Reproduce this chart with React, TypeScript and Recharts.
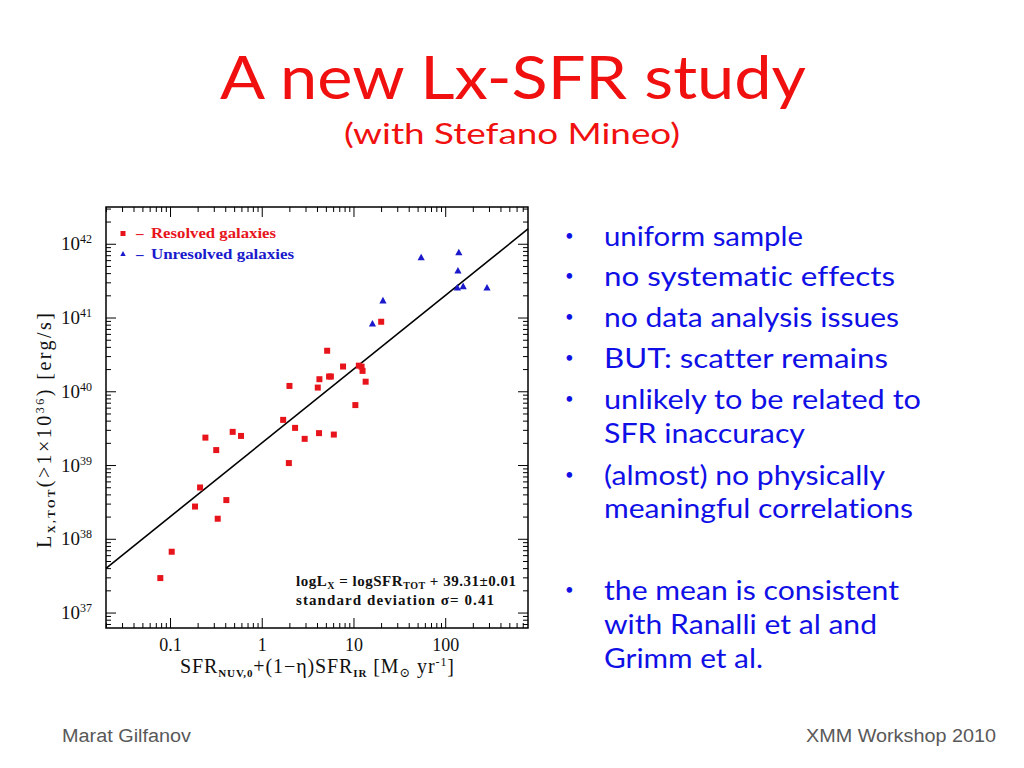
import React from 'react';
import { ScatterChart, Scatter, XAxis, YAxis, ReferenceLine, ReferenceArea } from 'recharts';

// ---------- data ----------
const resolvedSFR = [19.8, 5.1, 7.6, 11.3, 12.1, 12.4, 13.4, 5.35, 5.6, 4.2, 4.03, 1.98, 10.35, 1.69, 2.28, 0.24, 0.476, 0.587, 0.315, 2.9, 4.16, 6.03, 1.95, 0.21, 0.185, 0.406, 0.327, 0.103, 0.0774];
const resolvedLx = [8.9e40, 3.6e40, 2.2e40, 2.26e40, 2.19e40, 1.92e40, 1.37e40, 1.61e40, 1.61e40, 1.48e40, 1.14e40, 1.2e40, 6.6e39, 4.16e39, 3.24e39, 2.39e39, 2.86e39, 2.52e39, 1.62e39, 2.3e39, 2.75e39, 2.63e39, 1.08e39, 5.04e38, 2.78e38, 3.4e38, 1.9e38, 6.78e37, 2.98e37];
const unresolvedSFR = [54, 139, 136, 134, 155, 282, 20.7, 15.9];
const unresolvedLx = [6.58e41, 7.69e41, 4.35e41, 2.56e41, 2.67e41, 2.56e41, 1.71e41, 8.3e40];

const FIT_INTERCEPT = 39.31; // logLx = logSFR + 39.31
const X_DOMAIN = [0.0198, 789];
const Y_DOMAIN = [6.27e36, 3.2e42];

const X_DECADES = [-2, -1, 0, 1, 2];
const Y_DECADES = [36, 37, 38, 39, 40, 41, 42];
const MANTISSAS = [1, 2, 3, 4, 5, 6, 7, 8, 9];

const bulletLines = [
  { text: 'uniform sample', bullet: true, w: 199 },
  { text: 'no systematic effects', bullet: true, w: 291 },
  { text: 'no data analysis issues', bullet: true, w: 295 },
  { text: 'BUT: scatter remains', bullet: true, w: 284 },
  { text: 'unlikely to be related to', bullet: true, w: 317 },
  { text: 'SFR inaccuracy', bullet: false, w: 201 },
  { text: '(almost) no physically', bullet: true, w: 281 },
  { text: 'meaningful correlations', bullet: false, w: 309 },
  { text: 'the mean is consistent', bullet: true, w: 295 },
  { text: 'with Ranalli et al and', bullet: false, w: 273 },
  { text: 'Grimm et al.', bullet: false, w: 159 },
];
const bulletBaselines = [246, 286, 327, 368, 409, 443, 485, 518, 600, 634, 668];

// ---------- layout ----------
const PLOT_W = 422;
const PLOT_H = 421;
const RED = '#e8141c';
const BLUE = '#1a1acc';
const SLIDE_BLUE = '#1010e6';
const SERIF = '"Liberation Serif", "DejaVu Serif", serif';
const SLIDE_FONT = 'Lato, "Open Sans", sans-serif';
const NO_LIG = { fontVariantLigatures: 'none' as const };

const buildTicks = (decades: number[], dom: number[]) => {
  const out: number[] = [];
  decades.forEach((d) => MANTISSAS.forEach((m) => {
    const v = m * Math.pow(10, d);
    if (v >= dom[0] && v <= dom[1]) out.push(v);
  }));
  return out;
};
const X_TICKS = buildTicks(X_DECADES, X_DOMAIN);
const Y_TICKS = buildTicks(Y_DECADES, Y_DOMAIN);

const isMajor = (v: number) => {
  const l = Math.log10(v);
  return Math.abs(l - Math.round(l)) < 1e-6;
};

const XTick = (props: any) => {
  const { x, y, payload } = props;
  const v = payload.value;
  const major = isMajor(v);
  const len = major ? 10 : 5;
  return (
    <g>
      <line x1={x} y1={y} x2={x} y2={y - len} stroke="#000" strokeWidth={1} />
      <line x1={x} y1={y - PLOT_H} x2={x} y2={y - PLOT_H + len} stroke="#000" strokeWidth={1} />
      {major && (
        <text x={x} y={y + 23} textAnchor="middle" fontFamily={SERIF} fontSize={18} fill="#111">
          {String(v)}
        </text>
      )}
    </g>
  );
};

const YTick = (props: any) => {
  const { x, y, payload } = props;
  const v = payload.value;
  const major = isMajor(v);
  const len = major ? 10 : 5;
  return (
    <g>
      <line x1={x} y1={y} x2={x + len} y2={y} stroke="#000" strokeWidth={1} />
      <line x1={x + PLOT_W} y1={y} x2={x + PLOT_W - len} y2={y} stroke="#000" strokeWidth={1} />
      {major && (
        <text x={x - 14} y={y + 6} textAnchor="end" fontFamily={SERIF} fontSize={19} fill="#111">
          <tspan>10</tspan>
          <tspan dy={-7} fontSize={12}>{String(Math.round(Math.log10(v)))}</tspan>
        </text>
      )}
    </g>
  );
};

const Square = (props: any) => {
  const { cx, cy } = props;
  return <rect x={cx - 3} y={cy - 3} width={6} height={6} fill={RED} />;
};
const Triangle = (props: any) => {
  const { cx, cy } = props;
  return <polygon points={`${cx},${cy - 4} ${cx - 3.6},${cy + 2.6} ${cx + 3.6},${cy + 2.6}`} fill={BLUE} />;
};

export default function App() {
  const resolved = resolvedSFR.map((s, i) => ({ sfr: s, lx: resolvedLx[i] }));
  const unresolved = unresolvedSFR.map((s, i) => ({ sfr: s, lx: unresolvedLx[i] }));
  const fitK = Math.pow(10, FIT_INTERCEPT);
  const fitSegment = [
    { x: X_DOMAIN[0], y: X_DOMAIN[0] * fitK },
    { x: X_DOMAIN[1], y: X_DOMAIN[1] * fitK },
  ];

  return (
    <div style={{ position: 'absolute', left: 0, top: 0, width: 1024, height: 768, background: '#fff', overflow: 'hidden' }}>
      <div style={{ position: 'absolute', left: 0, top: 0 }}>
        <ScatterChart width={1024} height={768} margin={{ top: 207, right: 496, bottom: 100, left: 56 }}>
          <XAxis
            dataKey="sfr"
            type="number"
            scale="log"
            domain={X_DOMAIN}
            allowDataOverflow
            ticks={X_TICKS}
            interval={0}
            tick={(p: any) => <XTick {...p} />}
            tickLine={false}
            axisLine={false}
            tickSize={0}
            tickMargin={0}
            height={40}
          />
          <YAxis
            dataKey="lx"
            type="number"
            scale="log"
            domain={Y_DOMAIN}
            allowDataOverflow
            ticks={Y_TICKS}
            interval={0}
            tick={(p: any) => <YTick {...p} />}
            tickLine={false}
            axisLine={false}
            tickSize={0}
            tickMargin={0}
            width={50}
          />
          <ReferenceArea
            x1={X_DOMAIN[0]}
            x2={X_DOMAIN[1]}
            y1={Y_DOMAIN[0]}
            y2={Y_DOMAIN[1]}
            fill="none"
            fillOpacity={0}
            stroke="#000"
            strokeWidth={1.5}
            ifOverflow="visible"
          />
          <ReferenceLine segment={fitSegment} stroke="#000" strokeWidth={1.6} ifOverflow="visible" />
          <Scatter data={resolved} shape={(p: any) => <Square {...p} />} isAnimationActive={false} />
          <Scatter data={unresolved} shape={(p: any) => <Triangle {...p} />} isAnimationActive={false} />
        </ScatterChart>
      </div>

      <svg width={1024} height={768} style={{ position: 'absolute', left: 0, top: 0, pointerEvents: 'none' }}>
        {/* title */}
        <text x={220} y={99} fontFamily={SLIDE_FONT} fontSize={60} fill="#f01010" textLength={586} lengthAdjust="spacingAndGlyphs" style={NO_LIG}>
          A new Lx-SFR study
        </text>
        <text x={344} y={144} fontFamily={SLIDE_FONT} fontSize={29} fill="#f01010" textLength={336} lengthAdjust="spacingAndGlyphs" style={NO_LIG}>
          (with Stefano Mineo)
        </text>

        {/* bullets */}
        {bulletLines.map((b, i) => (
          <g key={i}>
            {b.bullet && (
              <text x={565} y={bulletBaselines[i] - 5} fontFamily={SLIDE_FONT} fontSize={15} fill={SLIDE_BLUE}>•</text>
            )}
            <text x={604} y={bulletBaselines[i]} fontFamily={SLIDE_FONT} fontSize={27} fill={SLIDE_BLUE} textLength={b.w} lengthAdjust="spacingAndGlyphs" style={NO_LIG}>
              {b.text}
            </text>
          </g>
        ))}

        {/* footer */}
        <text x={62} y={742} fontFamily='"Liberation Sans", Arial, sans-serif' fontSize={18} fill="#595959" textLength={129} lengthAdjust="spacingAndGlyphs">
          Marat Gilfanov
        </text>
        <text x={806} y={742} fontFamily='"Liberation Sans", Arial, sans-serif' fontSize={18} fill="#595959" textLength={190} lengthAdjust="spacingAndGlyphs">
          XMM Workshop 2010
        </text>

        {/* legend inside plot */}
        <rect x={120.5} y={231} width={5} height={5} fill={RED} />
        <text x={136} y={238} fontFamily={SERIF} fontWeight="bold" fontSize={15} fill={RED}>–</text>
        <text x={151} y={238} fontFamily={SERIF} fontWeight="bold" fontSize={15} fill={RED} textLength={125} lengthAdjust="spacingAndGlyphs">
          Resolved galaxies
        </text>
        <polygon points="123,251 120.3,256 125.7,256" fill={BLUE} />
        <text x={136} y={259} fontFamily={SERIF} fontWeight="bold" fontSize={15} fill={BLUE}>–</text>
        <text x={151} y={259} fontFamily={SERIF} fontWeight="bold" fontSize={15} fill={BLUE} textLength={143} lengthAdjust="spacingAndGlyphs">
          Unresolved galaxies
        </text>

        {/* fit annotation */}
        <text x={296} y={586} fontFamily={SERIF} fontWeight="bold" fontSize={15} fill="#111" textLength={220} lengthAdjust="spacing">
          <tspan>logL</tspan>
          <tspan fontSize={10} dy={3}>X</tspan>
          <tspan dy={-3}> = logSFR</tspan>
          <tspan fontSize={10} dy={3}>TOT</tspan>
          <tspan dy={-3}> + 39.31±0.01</tspan>
        </text>
        <text x={296} y={605} fontFamily={SERIF} fontWeight="bold" fontSize={15} fill="#111" textLength={198} lengthAdjust="spacing">
          standard deviation σ= 0.41
        </text>

        {/* x axis title */}
        <text x={180} y={673} fontFamily={SERIF} fontSize={20} fill="#111" textLength={274} lengthAdjust="spacing">
          <tspan>SFR</tspan>
          <tspan fontSize={11} fontWeight="bold" dy={4}>NUV,0</tspan>
          <tspan dy={-4}>+(1−η)SFR</tspan>
          <tspan fontSize={11} fontWeight="bold" dy={4}>IR</tspan>
          <tspan dy={-4}> [M</tspan>
          <tspan fontSize={13} dy={4}>⊙</tspan>
          <tspan dy={-4}> yr</tspan>
          <tspan fontSize={12} dy={-7}>-1</tspan>
          <tspan dy={7}>]</tspan>
        </text>

        {/* y axis title */}
        <text x={0} y={0} transform="translate(51,548) rotate(-90)" fontFamily={SERIF} fontSize={20} fill="#111" textLength={235} lengthAdjust="spacing">
          <tspan>L</tspan>
          <tspan fontSize={11} fontWeight="bold" dy={4}>X,TOT</tspan>
          <tspan dy={-4}>(&gt;1×10</tspan>
          <tspan fontSize={12} dy={-7}>36</tspan>
          <tspan dy={7}>) [erg/s]</tspan>
        </text>
      </svg>
    </div>
  );
}
